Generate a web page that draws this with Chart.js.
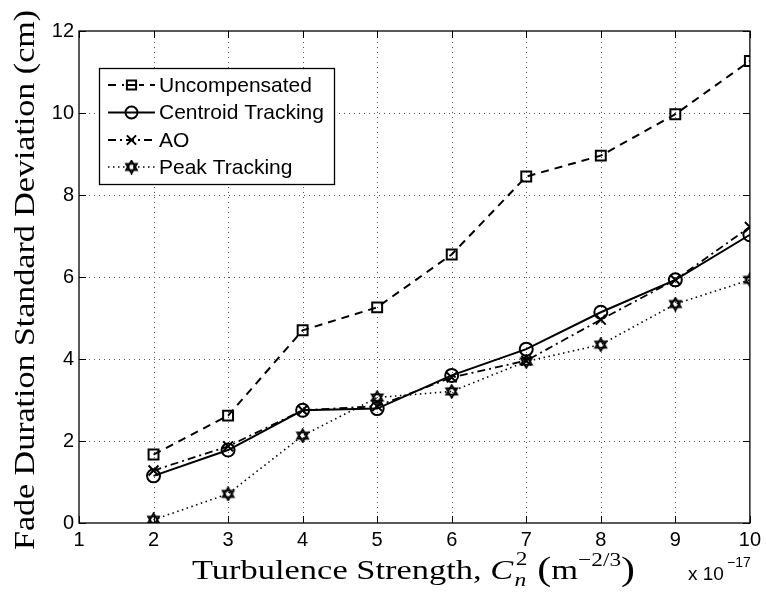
<!DOCTYPE html>
<html><head><meta charset="utf-8">
<script src="https://cdn.jsdelivr.net/npm/chart.js@4/dist/chart.umd.min.js"></script>
<style>html,body{margin:0;padding:0;background:#fff}#wrap{width:766px;height:596px}</style>
</head><body><div id="wrap"><canvas id="c" width="766" height="596"></canvas></div>
<script>
const xValues = [2, 3, 4, 5, 6, 7, 8, 9, 10];
const uncompensated = [1.67, 2.62, 4.70, 5.26, 6.55, 8.45, 8.96, 9.97, 11.27];
const centroidTracking = [1.15, 1.78, 2.75, 2.79, 3.60, 4.24, 5.14, 5.93, 7.03];
const ao = [1.28, 1.87, 2.75, 2.85, 3.55, 3.96, 4.96, 5.93, 7.22];
const peakTracking = [0.08, 0.71, 2.13, 3.06, 3.21, 3.94, 4.35, 5.34, 5.93];
const seriesNames = ['Uncompensated', 'Centroid Tracking', 'AO', 'Peak Tracking'];
const xTicks = [1, 2, 3, 4, 5, 6, 7, 8, 9, 10];
const yTicks = [0, 2, 4, 6, 8, 10, 12];

const SANS = '"Liberation Sans", Arial, Helvetica, sans-serif';
const SERIF = '"Liberation Serif", "Times New Roman", serif';

function hexagram(size) {
  const cv = document.createElement('canvas');
  cv.width = size; cv.height = size;
  const g = cv.getContext('2d');
  const c = size / 2, r = size / 2 - 1.2;
  g.strokeStyle = '#000'; g.lineWidth = 1.8;
  for (let t = 0; t < 2; t++) {
    g.beginPath();
    for (let k = 0; k < 3; k++) {
      const a = -Math.PI / 2 + t * Math.PI + k * 2 * Math.PI / 3;
      const px = c + r * Math.cos(a), py = c + r * Math.sin(a);
      if (k === 0) g.moveTo(px, py); else g.lineTo(px, py);
    }
    g.closePath(); g.stroke();
  }
  return cv;
}
const starImg = hexagram(15);

function pts(arr) { return xValues.map((x, i) => ({ x: x, y: arr[i] })); }

const datasets = [
  { label: seriesNames[0], data: pts(uncompensated), borderColor: '#000', borderWidth: 2, borderDash: [8, 6],
    pointStyle: 'rect', pointRadius: 7, pointBorderWidth: 2, pointBorderColor: '#000', pointBackgroundColor: 'rgba(0,0,0,0)' },
  { label: seriesNames[1], data: pts(centroidTracking), borderColor: '#000', borderWidth: 2, borderDash: [],
    pointStyle: 'circle', pointRadius: 6.5, pointBorderWidth: 2, pointBorderColor: '#000', pointBackgroundColor: 'rgba(0,0,0,0)' },
  { label: seriesNames[2], data: pts(ao), borderColor: '#000', borderWidth: 1.8, borderDash: [8, 4, 2, 4],
    pointStyle: 'crossRot', pointRadius: 7, pointBorderWidth: 2, pointBorderColor: '#000', pointBackgroundColor: 'rgba(0,0,0,0)' },
  { label: seriesNames[3], data: pts(peakTracking), borderColor: '#000', borderWidth: 1.6, borderDash: [1.5, 3.5],
    pointStyle: starImg, pointRadius: 7, pointBorderWidth: 1, pointBorderColor: '#000', pointBackgroundColor: 'rgba(0,0,0,0)' }
];

const boxPlugin = {
  id: 'boxPlugin',
  beforeDatasetsDraw(chart) {
    const { ctx, chartArea: a, scales } = chart;
    ctx.save();
    ctx.strokeStyle = '#555'; ctx.lineWidth = 1; ctx.setLineDash([1, 4]);
    xTicks.slice(1, -1).forEach(v => {
      const px = Math.round(scales.x.getPixelForValue(v)) + 0.5;
      ctx.beginPath(); ctx.moveTo(px, a.bottom); ctx.lineTo(px, a.top); ctx.stroke();
    });
    yTicks.slice(1, -1).forEach(v => {
      const py = Math.round(scales.y.getPixelForValue(v)) + 0.5;
      ctx.beginPath(); ctx.moveTo(a.left, py); ctx.lineTo(a.right, py); ctx.stroke();
    });
    ctx.restore();
  },
  afterDatasetsDraw(chart) {
    const { ctx, chartArea: a, scales } = chart;
    ctx.save();
    ctx.strokeStyle = '#000'; ctx.lineWidth = 1.3; ctx.setLineDash([]);
    ctx.strokeRect(a.left, a.top, a.right - a.left, a.bottom - a.top);
    ctx.lineWidth = 1;
    const tl = 7;
    xTicks.forEach(v => {
      const px = Math.round(scales.x.getPixelForValue(v)) + 0.5;
      ctx.beginPath(); ctx.moveTo(px, a.bottom); ctx.lineTo(px, a.bottom - tl);
      ctx.moveTo(px, a.top); ctx.lineTo(px, a.top + tl); ctx.stroke();
    });
    yTicks.forEach(v => {
      const py = Math.round(scales.y.getPixelForValue(v)) + 0.5;
      ctx.beginPath(); ctx.moveTo(a.left, py); ctx.lineTo(a.left + tl, py);
      ctx.moveTo(a.right, py); ctx.lineTo(a.right - tl, py); ctx.stroke();
    });
    ctx.restore();
  },
  afterDraw(chart) {
    const ctx = chart.ctx;
    ctx.save();
    // legend
    const lx = 99, ly = 68, lw = 235, lh = 116;
    ctx.fillStyle = '#fff'; ctx.fillRect(lx, ly, lw, lh);
    ctx.strokeStyle = '#000'; ctx.lineWidth = 1.3; ctx.setLineDash([]);
    ctx.strokeRect(lx + 0.5, ly + 0.5, lw, lh);
    const rows = [85, 112.5, 140, 167];
    chart.data.datasets.forEach((ds, i) => {
      const y = rows[i];
      ctx.save();
      ctx.strokeStyle = '#000'; ctx.lineWidth = ds.borderWidth; ctx.setLineDash(ds.borderDash);
      ctx.beginPath(); ctx.moveTo(108, y); ctx.lineTo(155, y); ctx.stroke();
      ctx.restore();
      ctx.save();
      ctx.strokeStyle = '#000'; ctx.fillStyle = 'rgba(0,0,0,0)'; ctx.lineWidth = ds.pointBorderWidth; ctx.setLineDash([]);
      if (i !== 0) {
        Chart.helpers.drawPoint(ctx, { pointStyle: ds.pointStyle, radius: ds.pointRadius - 0.5, rotation: 0, borderWidth: ds.pointBorderWidth }, 131.5, y);
      } else {
        ctx.fillStyle = '#fff'; ctx.fillRect(124, y - 8, 15, 16);
        Chart.helpers.drawPoint(ctx, { pointStyle: ds.pointStyle, radius: 6.5, rotation: 0, borderWidth: ds.pointBorderWidth }, 131.5, y);
        ctx.beginPath(); ctx.moveTo(127, y); ctx.lineTo(136, y); ctx.lineWidth = 2; ctx.stroke();
      }
      ctx.restore();
      ctx.fillStyle = '#000'; ctx.font = '21px ' + SANS;
      ctx.textAlign = 'left'; ctx.textBaseline = 'middle';
      ctx.fillText(ds.label, 159, y + 1);
    });

    // y title (stretched to match Computer Modern width)
    ctx.save();
    const yTitle = 'Fade Duration Standard Deviation (cm)';
    ctx.font = '30px ' + SERIF;
    const yw = ctx.measureText(yTitle).width;
    ctx.translate(34, 280);
    ctx.rotate(-Math.PI / 2);
    ctx.scale(540 / yw, 1);
    ctx.fillStyle = '#000'; ctx.textAlign = 'center'; ctx.textBaseline = 'alphabetic';
    ctx.fillText(yTitle, 0, 0);
    ctx.restore();

    // x title with sub/superscripts
    const base = 579;
    const fMain = '28px ' + SERIF;
    const fIt = 'italic 28px ' + SERIF;
    const fParen = '34px ' + SERIF;
    const fSmall = '19px ' + SERIF;
    const fSmallIt = 'italic 19px ' + SERIF;
    const parts = [
      { t: 'Turbulence Strength, ', f: fMain, dy: 0 },
      { t: 'C', f: fIt, dy: 0 },
      { t: 'n2', f: null },
      { t: ' ', f: fMain, dy: 0 },
      { t: '(', f: fParen, dy: 1 },
      { t: 'm', f: fMain, dy: 0 },
      { t: '\u22122/3', f: fSmall, dy: -13 },
      { t: ')', f: fParen, dy: 1 }
    ];
    let total = 0;
    parts.forEach(p => {
      if (p.f) { ctx.font = p.f; p.w = ctx.measureText(p.t).width; }
      else { ctx.font = fSmallIt; const w1 = ctx.measureText('n').width; ctx.font = fSmall; const w2 = ctx.measureText('2').width; p.w = Math.max(w1, w2) + 3; }
      total += p.w;
    });
    ctx.save();
    ctx.translate(192, 0);
    ctx.scale(443 / total, 1);
    let x = 0;
    ctx.fillStyle = '#000'; ctx.textAlign = 'left'; ctx.textBaseline = 'alphabetic';
    parts.forEach(p => {
      if (p.f) { ctx.font = p.f; ctx.fillText(p.t, x, base + p.dy); }
      else {
        ctx.font = fSmallIt; ctx.fillText('n', x + 1, base + 7);
        ctx.font = fSmall; ctx.fillText('2', x + 2, base - 14);
      }
      x += p.w;
    });
    ctx.restore();

    // exponent
    ctx.fillStyle = '#000'; ctx.textAlign = 'left'; ctx.textBaseline = 'alphabetic';
    ctx.font = '19px ' + SANS;
    ctx.fillText('x 10', 688, 580);
    ctx.font = '14px ' + SANS;
    ctx.fillText('\u221217', 727, 567);
    ctx.restore();
  }
};

new Chart(document.getElementById('c'), {
  type: 'line',
  data: { datasets: datasets },
  options: {
    responsive: false,
    animation: false,
    devicePixelRatio: 1,
    layout: { padding: { top: 31, right: 14, left: 0, bottom: 0 } },
    plugins: { legend: { display: false }, tooltip: { enabled: false } },
    scales: {
      x: {
        type: 'linear', min: 1, max: 10,
        afterFit(s) { s.height = 73; },
        afterBuildTicks(s) { s.ticks = xTicks.map(v => ({ value: v })); },
        ticks: { color: '#000', font: { family: SANS, size: 20 }, padding: 5, maxRotation: 0 },
        grid: { display: false, drawTicks: false },
        border: { display: false }
      },
      y: {
        type: 'linear', min: 0, max: 12,
        afterFit(s) { s.width = 79; },
        afterBuildTicks(s) { s.ticks = yTicks.map(v => ({ value: v })); },
        ticks: { color: '#000', font: { family: SANS, size: 20 }, padding: 5 },
        grid: { display: false, drawTicks: false },
        border: { display: false }
      }
    }
  },
  plugins: [boxPlugin]
});
</script>
</body></html>
